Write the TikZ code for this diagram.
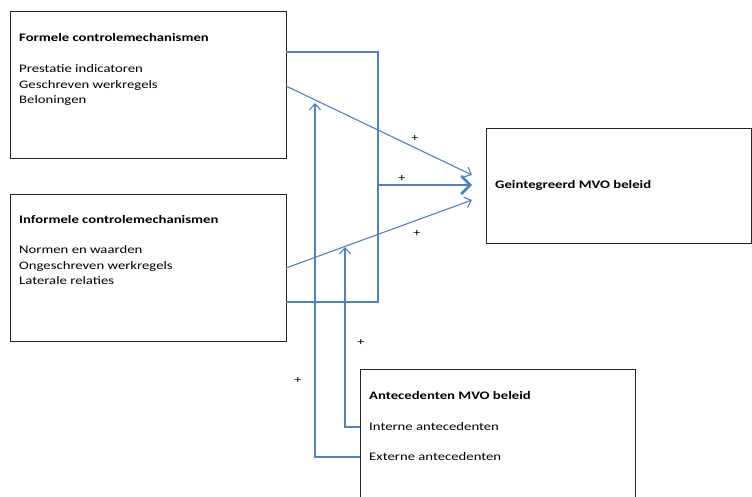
\documentclass[tikz,border=0pt]{standalone}
\usepackage{fontspec}
\setmainfont{Carlito}[FakeStretch=1.28]
\usetikzlibrary{arrows.meta}
\definecolor{mvoblue}{RGB}{79,129,189}
\tikzset{
  box/.style={draw=black!85, line width=1.3pt, anchor=north west, inner sep=0pt},
  lbl/.style={anchor=west, inner sep=0pt, font=\fontsize{11.5}{13}\selectfont},
  ttl/.style={anchor=west, inner sep=0pt, font=\fontsize{11.5}{13}\selectfont\bfseries},
  link/.style={draw=mvoblue, line width=1.1pt, -{Straight Barb[length=6pt,width=11pt]}},
  bracket/.style={draw=mvoblue, line width=2.6pt},
  plus/.style={inner sep=0pt, font=\fontsize{11}{12}\selectfont}
}
\begin{document}
\begin{tikzpicture}[x=1pt,y=-1pt]
  \useasboundingbox (0,0) rectangle (752,497);
  \node[box, minimum width=276pt, minimum height=147pt] (formeel) at (10,11) {};
  \node[box, minimum width=276pt, minimum height=147pt] (informeel) at (10,194) {};
  \node[box, minimum width=265pt, minimum height=115pt] (mvo) at (486,128) {};
  \node[box, minimum width=275pt, minimum height=140pt] (antec) at (360,369) {};
  \node[ttl] (f0) at (19,38) {Formele controlemechanismen};
  \node[lbl] (f1) at (19,69) {Prestatie indicatoren};
  \node[lbl] (f2) at (19,85) {Geschreven werkregels};
  \node[lbl] (f3) at (19,100) {Beloningen};
  \node[ttl] (i0) at (19,220) {Informele controlemechanismen};
  \node[lbl] (i1) at (19,250) {Normen  en waarden};
  \node[lbl] (i2) at (19,266) {Ongeschreven werkregels};
  \node[lbl] (i3) at (19,281) {Laterale relaties};
  \node[ttl] (m0) at (495,185) {Geintegreerd MVO beleid};
  \node[ttl] (a0) at (369,396) {Antecedenten MVO beleid};
  \node[lbl] (a1) at (369,427) {Interne antecedenten};
  \node[lbl] (a2) at (369,457) {Externe antecedenten};
  \coordinate (fTop) at (286,52);
  \coordinate (bend) at (378,185);
  \coordinate (iBot) at (286,302);
  \coordinate (mvoIn) at (472,185);
  \coordinate (fOut) at (286,86);
  \coordinate (fIn) at (472,175);
  \coordinate (iOut) at (286,268);
  \coordinate (iIn) at (472,200);
  \coordinate (extTip) at (315,103);
  \coordinate (intTip) at (345,247);
  \draw[bracket] (fTop) -| (bend) |- (iBot);
  \draw[link, line width=2.6pt, -{Straight Barb[length=9pt,width=18pt]}] (bend) -- (mvoIn);
  \draw[link] (fOut) -- (fIn);
  \draw[link] (iOut) -- (iIn);
  \draw[link] (antec.west |- a2.west) -| (extTip);
  \draw[link] (antec.west |- a1.west) -| (intTip);
  \node[plus] (p1) at (415,138) {+};
  \node[plus] (p2) at (402,178) {+};
  \node[plus] (p3) at (417,233) {+};
  \node[plus] (p4) at (361,342) {+};
  \node[plus] (p5) at (298,380) {+};
\end{tikzpicture}
\end{document}
